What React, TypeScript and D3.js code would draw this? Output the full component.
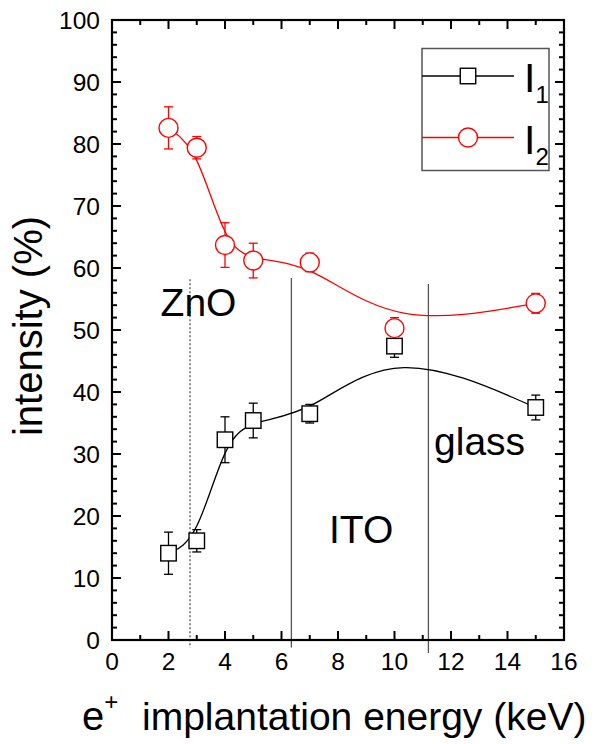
import React from "react";
import * as d3 from "d3";

const energy = [2, 3, 4, 5, 7, 10, 15];
const i1 = [14.0, 16.0, 32.3, 35.4, 36.5, 47.4, 37.5];
const i1Err = [3.4, 1.8, 3.7, 2.8, 1.5, 1.8, 2.0];
const i2 = [82.6, 79.4, 63.7, 61.2, 60.9, 50.3, 54.3];
const i2Err = [3.4, 1.8, 3.6, 2.8, 1.5, 1.7, 1.6];

const xTicks = [0, 2, 4, 6, 8, 10, 12, 14, 16];
const yTicks = [0, 10, 20, 30, 40, 50, 60, 70, 80, 90, 100];

// layer boundaries: x position, top y value, bottom y value, dashed?
const boundaryX = [2.76, 6.35, 11.2];
const boundaryTop = [58.2, 58.4, 57.4];
const boundaryBottom = [-1.2, -1.2, -2.1];
const boundaryDashed = [true, false, false];

const layerNames = ["ZnO", "ITO", "glass"];
const layerX = [1.72, 7.68, 11.4];
const layerY = [52.3, 15.6, 29.8];

const W = 604;
const H = 744;
const FONT = "Liberation Sans, Arial, Helvetica, sans-serif";

export default function App() {
  const x = d3.scaleLinear().domain([0, 16]).range([112, 564]);
  const y = d3.scaleLinear().domain([0, 100]).range([640, 20]);

  const line = d3
    .line<[number, number]>()
    .x((d) => x(d[0]))
    .y((d) => y(d[1]))
    .curve(d3.curveBasis);

  const p1 = energy.map((e, i) => [e, i1[i]] as [number, number]);
  const p2 = energy.map((e, i) => [e, i2[i]] as [number, number]);

  const red = "#ff0000";
  const sq = 15.5;
  const cr = 9.5;
  const cap = 4.5;

  const minorX = d3.range(0, 17, 1);
  const minorY = d3.range(0, 101, 2);

  const errBars = (vals: number[], errs: number[], color: string) =>
    energy.map((e, i) => {
      const cx = x(e);
      const top = y(vals[i] + errs[i]);
      const bot = y(vals[i] - errs[i]);
      return (
        <g key={"e" + i} stroke={color} strokeWidth={1.3}>
          <line x1={cx} x2={cx} y1={top} y2={bot} />
          <line x1={cx - cap} x2={cx + cap} y1={top} y2={top} />
          <line x1={cx - cap} x2={cx + cap} y1={bot} y2={bot} />
        </g>
      );
    });

  return (
    <svg
      width={W}
      height={H}
      style={{ position: "absolute", left: 0, top: 0, background: "#fff" }}
      fontFamily={FONT}
    >
      {/* boundaries */}
      {boundaryX.map((b, i) => (
        <line
          key={"b" + i}
          x1={x(b)}
          x2={x(b)}
          y1={y(boundaryTop[i])}
          y2={y(boundaryBottom[i])}
          stroke="#555"
          strokeWidth={1.3}
          strokeDasharray={boundaryDashed[i] ? "2,2" : undefined}
        />
      ))}

      {/* layer labels */}
      {layerNames.map((n, i) => (
        <text key={n} x={x(layerX[i])} y={y(layerY[i])} fontSize={39} fill="#000">
          {n}
        </text>
      ))}

      {/* curves */}
      <path d={line(p1) || ""} fill="none" stroke="#000" strokeWidth={1.3} />
      <path d={line(p2) || ""} fill="none" stroke={red} strokeWidth={1.3} />

      {/* error bars */}
      {errBars(i1, i1Err, "#000")}
      {errBars(i2, i2Err, red)}

      {/* markers */}
      {energy.map((e, i) => (
        <rect
          key={"s" + i}
          x={x(e) - sq / 2}
          y={y(i1[i]) - sq / 2}
          width={sq}
          height={sq}
          fill="#fff"
          stroke="#000"
          strokeWidth={1.4}
        />
      ))}
      {energy.map((e, i) => (
        <circle
          key={"c" + i}
          cx={x(e)}
          cy={y(i2[i])}
          r={cr}
          fill="#fff"
          stroke={red}
          strokeWidth={1.4}
        />
      ))}

      {/* frame */}
      <rect
        x={x(0)}
        y={y(100)}
        width={x(16) - x(0)}
        height={y(0) - y(100)}
        fill="none"
        stroke="#000"
        strokeWidth={2.2}
      />

      {/* x ticks */}
      {minorX.map((v) => {
        const len = v % 2 === 0 ? 9 : 5;
        return (
          <g key={"xt" + v} stroke="#000" strokeWidth={2}>
            <line x1={x(v)} x2={x(v)} y1={y(0)} y2={y(0) - len} />
            <line x1={x(v)} x2={x(v)} y1={y(100)} y2={y(100) + len} />
          </g>
        );
      })}
      {/* y ticks */}
      {minorY.map((v) => {
        const len = v % 10 === 0 ? 9 : 5;
        return (
          <g key={"yt" + v} stroke="#000" strokeWidth={2}>
            <line x1={x(0)} x2={x(0) + len} y1={y(v)} y2={y(v)} />
            <line x1={x(16)} x2={x(16) - len} y1={y(v)} y2={y(v)} />
          </g>
        );
      })}

      {/* tick labels */}
      {xTicks.map((v) => (
        <text key={"xl" + v} x={x(v)} y={670} textAnchor="middle" fontSize={24.5}>
          {v}
        </text>
      ))}
      {yTicks.map((v) => (
        <text
          key={"yl" + v}
          x={100}
          y={y(v)}
          textAnchor="end"
          dominantBaseline="central"
          fontSize={24.5}
        >
          {v}
        </text>
      ))}

      {/* axis titles */}
      <text
        transform={`translate(42,${(y(0) + y(100)) / 2 - 4}) rotate(-90)`}
        textAnchor="middle"
        fontSize={40}
      >
        intensity (%)
      </text>
      <text x={82} y={730} fontSize={40}>
        e
        <tspan fontSize={24} dy={-20}>
          +
        </tspan>
      </text>
      <text x={142} y={730} fontSize={39}>
        implantation energy (keV)
      </text>

      {/* legend */}
      <g>
        <rect x={422} y={48.5} width={127} height={122} fill="#fff" stroke="#555" strokeWidth={1.5} />
        <line x1={422} x2={514} y1={76} y2={76} stroke="#000" strokeWidth={1.3} />
        <rect x={468 - sq / 2} y={76 - sq / 2} width={sq} height={sq} fill="#fff" stroke="#000" strokeWidth={1.4} />
        <line x1={422} x2={514} y1={137.5} y2={137.5} stroke={red} strokeWidth={1.3} />
        <circle cx={468} cy={137.5} r={cr} fill="#fff" stroke={red} strokeWidth={1.4} />
        <text x={524} y={92} fontSize={41}>
          I<tspan fontSize={24} dy={11}>1</tspan>
        </text>
        <text x={524} y={153.5} fontSize={41}>
          I<tspan fontSize={24} dy={11}>2</tspan>
        </text>
      </g>
    </svg>
  );
}
